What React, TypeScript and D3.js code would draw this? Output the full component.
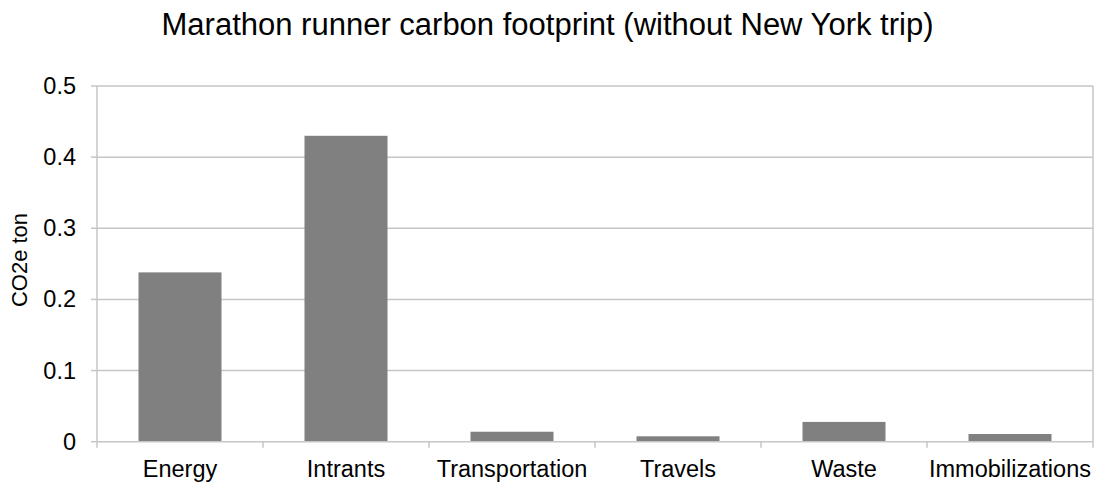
import React from "react";
import * as d3 from "d3";

const categories = ["Energy", "Intrants", "Transportation", "Travels", "Waste", "Immobilizations"];
const values = [0.238, 0.43, 0.014, 0.0076, 0.0278, 0.0108];
const yTicks = [0, 0.1, 0.2, 0.3, 0.4, 0.5];
const title = "Marathon runner carbon footprint (without New York trip)";
const yLabel = "CO2e ton";

const W = 1098, H = 485;
const left = 97, right = 1093, top = 86, bottom = 441.7;
const font = "'Liberation Sans', Arial, sans-serif";

export default function App() {
  const x = d3.scaleBand<string>().domain(categories).range([left, right]).paddingInner(0.5).paddingOuter(0.25);
  const y = d3.scaleLinear().domain([0, 0.5]).range([bottom, top]);
  const step = x.step();
  const grid = "#c6c6c6";
  return (
    <svg width={W} height={H} style={{ position: "absolute", left: 0, top: 0, background: "#fff" }}>
      <text x={547.5} y={35} textAnchor="middle" fontFamily={font} fontSize={31} fill="#000">{title}</text>
      {yTicks.map(t => (
        <g key={t}>
          {t > 0 && <line x1={left} x2={right} y1={y(t)} y2={y(t)} stroke={grid} strokeWidth={1.5} />}
          <line x1={left - 6} x2={left} y1={y(t)} y2={y(t)} stroke={grid} strokeWidth={1.5} />
          <text x={left - 21} y={y(t) + 8} textAnchor="end" fontFamily={font} fontSize={23.5} fill="#000">{t}</text>
        </g>
      ))}
      <line x1={right} x2={right} y1={top} y2={bottom} stroke={grid} strokeWidth={1.5} />
      {categories.map((c, i) => (
        <rect key={c} x={x(c)} y={y(values[i])} width={x.bandwidth()} height={bottom - y(values[i])} fill="#808080" />
      ))}
      <line x1={left} x2={left} y1={top} y2={bottom + 6} stroke={grid} strokeWidth={1.5} />
      <line x1={left} x2={right} y1={bottom} y2={bottom} stroke={grid} strokeWidth={1.5} />
      {categories.map((c, i) => (
        <line key={"t" + c} x1={left + step * (i + 1)} x2={left + step * (i + 1)} y1={bottom} y2={bottom + 6} stroke={grid} strokeWidth={1.5} />
      ))}
      {categories.map(c => (
        <text key={"l" + c} x={(x(c) as number) + x.bandwidth() / 2} y={477} textAnchor="middle" fontFamily={font} fontSize={23.5} fill="#000">{c}</text>
      ))}
      <text transform={`translate(27,260) rotate(-90)`} textAnchor="middle" fontFamily={font} fontSize={22} fill="#000">{yLabel}</text>
    </svg>
  );
}
